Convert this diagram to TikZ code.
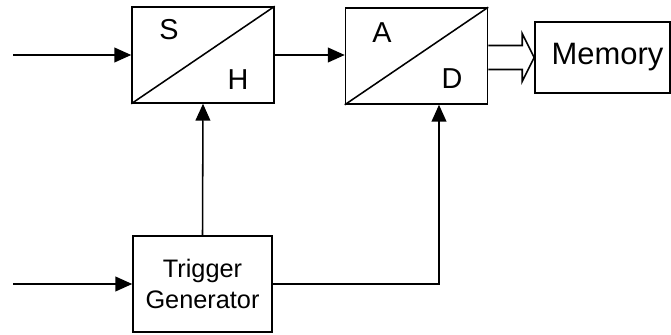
\documentclass[tikz,border=0pt]{standalone}
\usepackage{fontspec}
\setmainfont{Liberation Sans}
\usetikzlibrary{arrows.meta, positioning, calc}

\tikzset{
  wire/.style={line width=1.1pt, -{Triangle[length=12pt, width=10.5pt]}},
  plain/.style={line width=1.1pt},
  blk/.style={draw, line width=1.1pt, inner sep=0pt},
  conv/.style={blk, minimum width=3.55cm, minimum height=2.4cm},
  letter/.style={font=\fontsize{20.5}{24}\selectfont}
}

\begin{document}
\begin{tikzpicture}[x=1cm, y=1cm]
\useasboundingbox (0, 0) rectangle (16.775, 8.375);

%% converter chain
\node[conv] (sh) at (5.075, 7.0) {};
\node[conv] (ad) at (10.4125, 6.975) {};
\node[blk, minimum width=3.375cm, minimum height=1.775cm,
      font=\fontsize{22}{26}\selectfont] (mem) at (15.0625, 6.9375) {\hspace{0.25cm}Memory};
\node[blk, minimum width=3.475cm, minimum height=2.4cm, align=center,
      font=\fontsize{18}{21.5}\selectfont] (trig) at (5.0625, 1.275) {Trigger\\Generator};

%% split boxes
\draw[plain] (sh.south west) -- (sh.north east);
\draw[plain] (ad.south west) -- (ad.north east);
\node[letter] (lblS) at (4.225, 7.625) {S};
\node[letter] (lblH) at (5.95, 6.375) {H};
\node[letter] (lblA) at (9.55, 7.55) {A};
\node[letter] (lblD) at (11.3, 6.4) {D};

%% signal path
\coordinate (inTop) at (0.325, 7.0);
\coordinate (inBot) at (0.325, 1.275);
\draw[wire] (inTop) -- (sh.west);
\draw[wire] (inBot) -- (trig.west);
\draw[wire] (sh.east) -- (sh.east -| ad.west);
\draw[wire] (trig.north) -- (sh.south);
\coordinate (tap) at (10.975, 0 |- trig.east);
\draw[wire] (trig.east) -- (tap) -- (tap |- ad.south);

%% hollow bus arrow
\coordinate (hu) at ($(mem.west)+(-0.3, 0.3)$);
\coordinate (hl) at ($(mem.west)+(-0.3, -0.3)$);
\draw[plain] (ad.east |- hu) -- (hu) -- ++(0, 0.3) -- (mem.west)
  -- ($(mem.west)+(-0.3, -0.6)$) -- (hl) -- (ad.east |- hl);
\end{tikzpicture}
\end{document}
